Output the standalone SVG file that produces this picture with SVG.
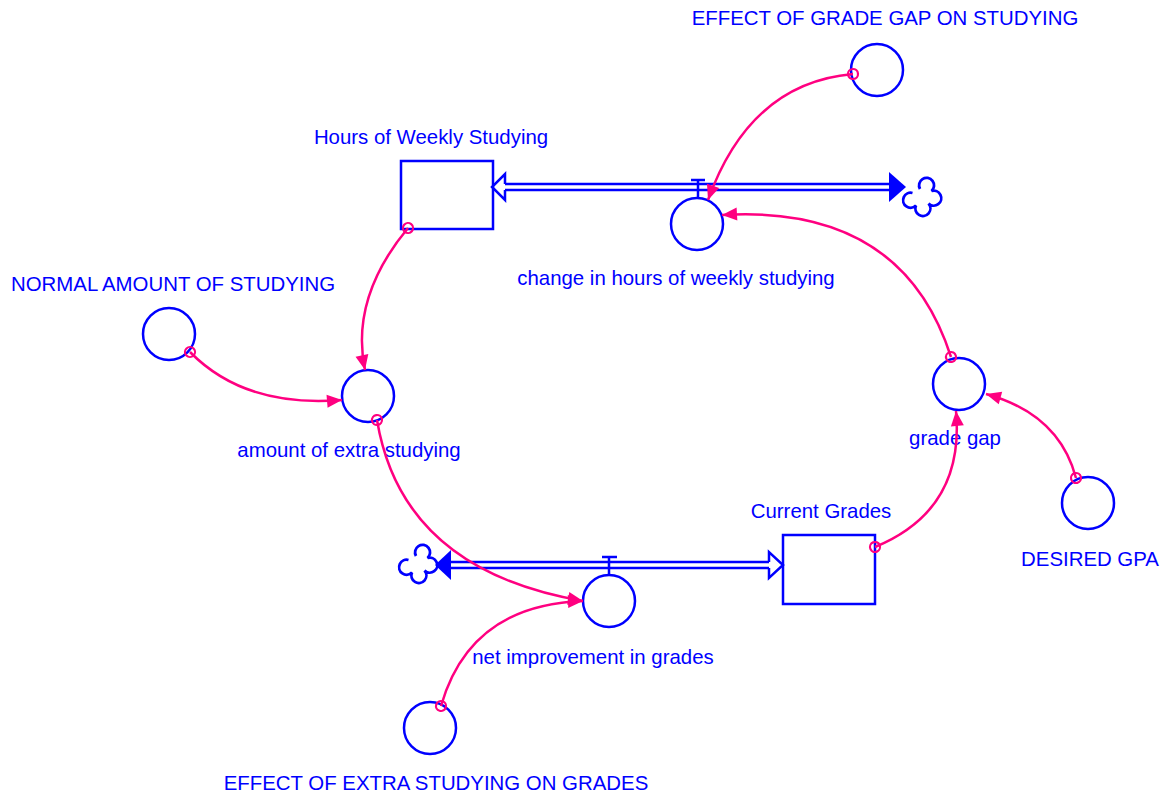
<svg xmlns="http://www.w3.org/2000/svg" width="1164" height="793" viewBox="0 0 1164 793">
<style>
.shape{fill:none;stroke:#0000FF;stroke-width:2.5}
.pipe{stroke:#0000FF;stroke-width:2.5;fill:none}
.lbl{font-family:"Liberation Sans",Arial,sans-serif;font-size:20.4px;fill:#0000FF;text-anchor:middle}
.link{fill:none;stroke:#FF0080;stroke-width:2.5;marker-start:url(#tail);marker-end:url(#head)}
</style>
<defs>
<marker id="head" markerUnits="userSpaceOnUse" viewBox="-16 -8 17 16" refX="0" refY="0" markerWidth="17" markerHeight="16" orient="auto">
<path d="M0,0 L-15,-6.5 L-15,6.5 Z" fill="#FF0080"/>
</marker>
<marker id="tail" markerUnits="userSpaceOnUse" viewBox="-7 -7 14 14" refX="0" refY="0" markerWidth="14" markerHeight="14" orient="auto">
<circle cx="0" cy="0" r="5" fill="none" stroke="#FF0080" stroke-width="2.2"/>
</marker>
<path id="cloud" d="M-2,-6 A7.5,7.5 0 1 1 9.5,-4 A7.5,7.5 0 1 1 6.5,8.5 A7.5,7.5 0 1 1 -6,10.5 A7.5,7.5 0 1 1 -9.5,-2" fill="none" stroke="#0000FF" stroke-width="2.8"/>
</defs>
<rect width="1164" height="793" fill="#FFFFFF"/>

<g id="flow-change-hours">
<line class="pipe" x1="505" y1="184" x2="892" y2="184"/>
<line class="pipe" x1="505" y1="190" x2="892" y2="190"/>
<path d="M505,184 L505,174 L492,187 L505,200 L505,190" fill="#FFFFFF" stroke="#0000FF" stroke-width="2.5"/>
<path d="M889,172 L906,187 L889,202 Z" fill="#0000FF"/>
<use href="#cloud" x="922" y="195"/>
<line class="pipe" x1="691" y1="180" x2="705" y2="180"/>
<line class="pipe" x1="698" y1="180" x2="698" y2="198"/>
</g>
<g id="flow-net-improvement">
<line class="pipe" x1="448" y1="562" x2="769" y2="562"/>
<line class="pipe" x1="448" y1="568" x2="769" y2="568"/>
<path d="M769,562 L769,552 L783,565 L769,578 L769,568" fill="#FFFFFF" stroke="#0000FF" stroke-width="2.5"/>
<path d="M451,550 L435,565 L451,580 Z" fill="#0000FF"/>
<use href="#cloud" x="418" y="562"/>
<line class="pipe" x1="602" y1="557" x2="617" y2="557"/>
<line class="pipe" x1="609" y1="557" x2="609" y2="575"/>
</g>

<g id="hours-weekly-studying">
<rect class="shape" x="401" y="161" width="92" height="68"/>
<text class="lbl" x="431" y="144">Hours of Weekly Studying</text>
</g>
<g id="current-grades">
<rect class="shape" x="783" y="535" width="92" height="69"/>
<text class="lbl" x="821" y="518">Current Grades</text>
</g>
<g id="change-hours">
<circle class="shape" cx="697" cy="224" r="26"/>
<text class="lbl" x="676" y="285">change in hours of weekly studying</text>
</g>
<g id="net-improvement">
<circle class="shape" cx="609" cy="601" r="26"/>
<text class="lbl" x="593" y="664">net improvement in grades</text>
</g>
<g id="effect-grade-gap">
<circle class="shape" cx="877" cy="70" r="26"/>
<text class="lbl" x="885" y="25">EFFECT OF GRADE GAP ON STUDYING</text>
</g>
<g id="normal-amount">
<circle class="shape" cx="169" cy="334" r="26"/>
<text class="lbl" x="173" y="291">NORMAL AMOUNT OF STUDYING</text>
</g>
<g id="amount-extra">
<circle class="shape" cx="368" cy="396" r="26"/>
<text class="lbl" x="349" y="457">amount of extra studying</text>
</g>
<g id="grade-gap">
<circle class="shape" cx="959" cy="384" r="26"/>
<text class="lbl" x="955" y="445">grade gap</text>
</g>
<g id="desired-gpa">
<circle class="shape" cx="1088" cy="503" r="26"/>
<text class="lbl" x="1090" y="566">DESIRED GPA</text>
</g>
<g id="effect-extra">
<circle class="shape" cx="430" cy="728" r="26"/>
<text class="lbl" x="436" y="790">EFFECT OF EXTRA STUDYING ON GRADES</text>
</g>

<g id="connectors">
<path class="link" d="M408,228 Q350,298 365,370"/>
<path class="link" d="M190,352 Q245,408 342,400"/>
<path class="link" d="M377,420 Q402,570 583,601"/>
<path class="link" d="M441,706 Q470,605 583,601"/>
<path class="link" d="M875,547 Q965,510 956,411"/>
<path class="link" d="M1076,478 Q1059,414 986,394"/>
<path class="link" d="M951,357 Q902,204 722,215"/>
<path class="link" d="M853,74 Q750,83 708,200"/>
</g>
</svg>
